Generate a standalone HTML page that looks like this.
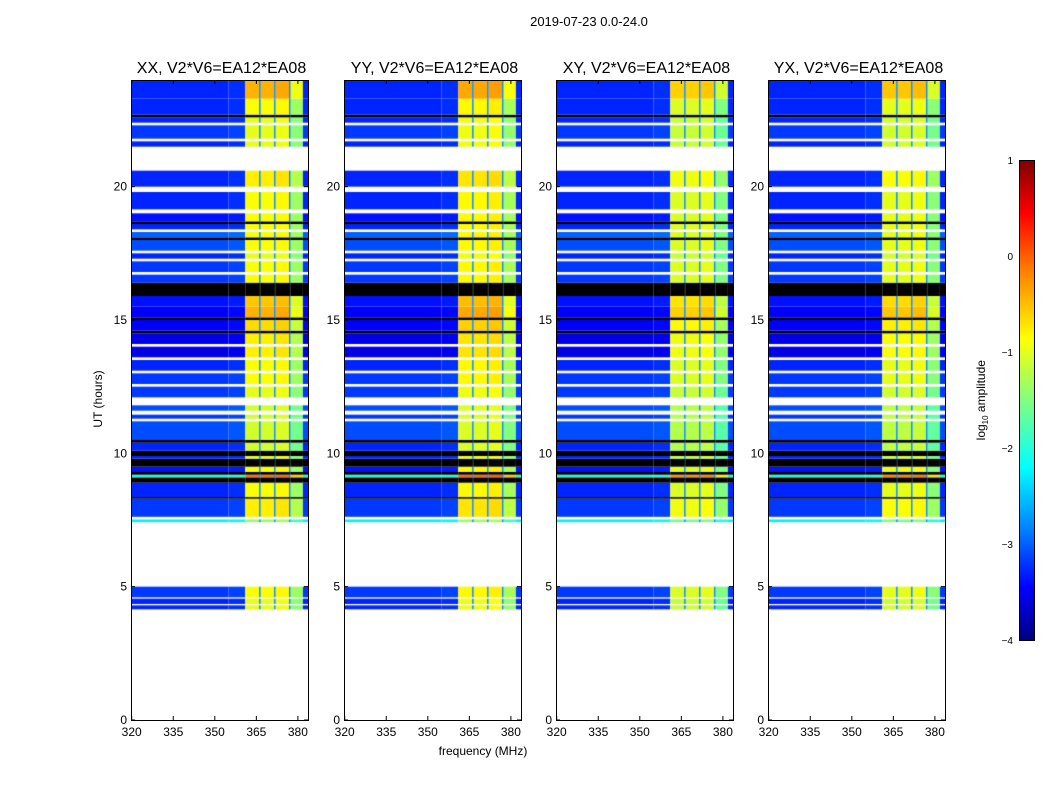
<!DOCTYPE html>
<html><head><meta charset="utf-8"><style>
body{margin:0;background:#fff;font-family:"Liberation Sans","DejaVu Sans",sans-serif;}
#root{position:relative;width:1050px;height:800px;overflow:hidden;background:#fff}
.t{position:absolute;white-space:nowrap;color:#000}
canvas{position:absolute}
</style></head><body>
<div id="root">
<div class="t" style="left:489px;top:14px;width:200px;text-align:center;font-size:13px">2019-07-23 0.0-24.0</div>
<div class="t" style="left:383px;top:744px;width:200px;text-align:center;font-size:12px">frequency (MHz)</div>
<div class="t" style="left:48px;top:392px;width:100px;text-align:center;font-size:12px;transform:rotate(-90deg)">UT (hours)</div>
<div style="position:absolute;left:1019px;top:160px;width:14px;height:479px;border:1px solid #000;background:linear-gradient(to top,#000080 0%,#0000ff 11%,#0080ff 23%,#00ffff 36%,#80ff80 50%,#ffff00 63%,#ff8000 77%,#ff0000 89%,#800000 100%)"></div>
<div class="t" style="left:922px;top:392px;width:120px;text-align:center;font-size:12px;transform:rotate(-90deg)">log<sub style="font-size:8px">10</sub> amplitude</div>
<svg id="svg" width="1050" height="800" style="position:absolute;left:0;top:0"></svg>
</div>
<script>
const panelTitles=["XX, V2*V6=EA12*EA08","YY, V2*V6=EA12*EA08","XY, V2*V6=EA12*EA08","YX, V2*V6=EA12*EA08"];
const panelLefts=[131,344,556,768];
const xTicks=[320,335,350,365,380];
const yTicks=[0,5,10,15,20];
const cbTicks=[1,0,-1,-2,-3,-4];
// time segments: start hour, low-band level, high-band level ("W"=blank, "K"=flagged black)
const segStart=[0,4.15,4.3,4.35,4.55,4.6,5.0,7.42,7.52,7.62,
 8.3,8.36,8.9,9.1,9.2,9.3,9.5,9.8,9.9,10.1,
 10.4,10.5,11.2,11.3,11.45,11.6,11.8,12.1,12.5,12.6,
 13.0,13.1,13.5,13.6,14.0,14.1,14.5,14.6,15.0,15.1,
 15.5,15.9,16.4,16.7,16.8,17.2,17.3,17.5,17.6,18.0,
 18.1,18.3,18.4,18.6,18.7,19.0,19.15,19.8,20.0,20.6,
 21.5,21.7,21.8,22.3,22.4,22.6,22.7,23.3];
const segLow=["W",-3.2,"W",-3.2,"W",-3.1,"W",-2.2,"W",-3.1,
 "K",-3.2,"K",-2.0,"K",-3.3,"K",-3.2,"K",-3.2,
 "K",-3.0,"W",-3.1,"W",-3.0,"W",-3.1,"W",-3.1,
 "W",-3.2,"W",-3.5,"W",-3.5,"K",-3.4,"K",-3.4,
 -3.3,"K",-3.1,"W",-3.1,"W",-3.2,"W",-3.0,"K",
 -2.9,"W",-3.2,"K",-3.3,"W",-3.2,"W",-3.2,"W",
 -3.2,"W",-3.1,"W",-3.2,"K",-3.2,-3.2];
const segHigh=["W",-1.0,"W",-1.0,"W",-0.9,"W",-1.4,"W",-0.8,
 "K",-0.9,"K",-0.2,"K",-0.9,"K",-1.0,"K",-1.1,
 "K",-1.1,"W",-1.1,"W",-1.1,"W",-1.0,"W",-0.9,
 "W",-0.9,"W",-0.8,"W",-0.8,"K",-0.7,"K",-0.5,
 -0.6,"K",-0.9,"W",-0.9,"W",-1.0,"W",-0.9,"K",
 -0.9,"W",-0.9,"K",-0.9,"W",-0.9,"W",-0.8,"W",
 -1.0,"W",-1.0,"W",-1.0,"K",-0.9,-0.5];
// frequency bands
const bandStart=[319.5,355,361,366,366.6,371.4,372.0,376.8,377.4,381.8];
const bandEnd=[355,361,366,366.6,371.4,372.0,376.8,377.4,381.8,384];
const bandKind=["L","L","H","G","H","G","H","G","H","L"];
const bandOffset=[0,0.05,0,0,0,0,0.05,0,-0.45,0];
const panelOffset=[0,0.05,-0.15,-0.1];

const NS="http://www.w3.org/2000/svg";
const svg=document.getElementById('svg');
const root=document.getElementById('root');
const W=177,H=640,TOP=80;
function xs(f){return 0.7+(f-320)*2.77;}
function ys(h){return H-h*(H/24);}
function jet(v){let x=(v+4)/5;x=Math.max(0,Math.min(1,x));
 const c=t=>Math.round(255*Math.max(0,Math.min(1,1.5-Math.abs(4*x-t))));
 return `rgb(${c(3)},${c(2)},${c(1)})`;}
function el(tag,attrs){const e=document.createElementNS(NS,tag);for(const k in attrs)e.setAttribute(k,attrs[k]);svg.appendChild(e);return e;}

panelLefts.forEach((L,p)=>{
 const cv=document.createElement('canvas');
 cv.width=W;cv.height=H;cv.style.left=L+'px';cv.style.top=TOP+'px';
 
 
 root.insertBefore(cv,svg);
 const ctx=cv.getContext('2d');
 for(let i=0;i<segStart.length;i++){
  const t0=segStart[i],t1=(i+1<segStart.length?segStart[i+1]:24);
  const y0=ys(t1),y1=ys(t0);
  for(let b=0;b<bandStart.length;b++){
   const x0=xs(bandStart[b]),x1=Math.min(W,xs(bandEnd[b]));
   let v=bandKind[b]==="L"?segLow[i]:segHigh[i];
   if(v==="W")continue;
   if(v==="K"){ctx.fillStyle="#000";}
   else{
     if(bandKind[b]==="G")v=-2.7;
     else if(bandKind[b]==="H")v=v+bandOffset[b]+panelOffset[p];
     else v=v+bandOffset[b];
     ctx.fillStyle=jet(v);
   }
   ctx.fillRect(x0,y0,x1-x0,y1-y0);
  }
 }
 const fr=el('rect',{x:L+0.5,y:TOP+0.5,width:W,height:H,fill:'none',stroke:'#000','stroke-width':1});
 
 
 const tt=el('text',{x:L+W/2+2,y:TOP-7,'text-anchor':'middle','font-size':16,'font-family':'Liberation Sans, sans-serif'});
 tt.textContent=panelTitles[p];
 
 
 xTicks.forEach(f=>{
  const x=L+xs(f);
  el('line',{x1:x,x2:x,y1:TOP+H,y2:TOP+H-4,stroke:'#000'});
  el('line',{x1:x,x2:x,y1:TOP,y2:TOP+4,stroke:'#000'});
  const t=el('text',{x:x,y:TOP+H+16,'text-anchor':'middle','font-size':12,'font-family':'Liberation Sans, sans-serif'});
  t.textContent=f;
  
  
 });
 yTicks.forEach(h=>{
  const y=TOP+ys(h);
  el('line',{x1:L,x2:L+4,y1:y,y2:y,stroke:'#000'});
  el('line',{x1:L+W,x2:L+W-4,y1:y,y2:y,stroke:'#000'});
  const t=el('text',{x:L-4,y:y+4,'text-anchor':'end','font-size':12,'font-family':'Liberation Sans, sans-serif'});
  t.textContent=h;
  
  
 });
});
cbTicks.forEach(v=>{
 const y=160+(1-v)*96;
 const t=el('text',{x:1013,y:y+4,'text-anchor':'end','font-size':10,'font-family':'Liberation Sans, sans-serif'});
 t.textContent=v<0?'\u2212'+(-v):String(v);
 
 
});
</script>
</body></html>
